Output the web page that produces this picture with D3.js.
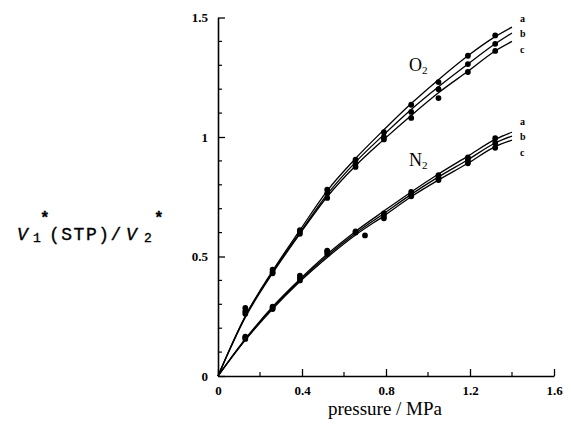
<!DOCTYPE html>
<html><head><meta charset="utf-8">
<script src="https://cdn.jsdelivr.net/npm/d3@7"></script>
<style>html,body{margin:0;padding:0;background:#fff;}svg{display:block;}</style>
</head><body>
<svg id="chart" width="565" height="425"></svg>
<script>
// ---- data ----
const curvePressure = [0, 0.13, 0.26, 0.39, 0.52, 0.655, 0.79, 0.92, 1.05, 1.19, 1.32, 1.4];
const o2CurveA = [0, 0.25, 0.44, 0.61, 0.775, 0.91, 1.03, 1.14, 1.24, 1.34, 1.42, 1.46];
const o2CurveB = [0, 0.25, 0.435, 0.60, 0.76, 0.895, 1.01, 1.115, 1.21, 1.305, 1.39, 1.435];
const o2CurveC = [0, 0.245, 0.43, 0.595, 0.75, 0.88, 0.99, 1.09, 1.185, 1.275, 1.36, 1.40];
const n2CurveA = [0, 0.155, 0.29, 0.405, 0.51, 0.605, 0.69, 0.77, 0.845, 0.92, 0.99, 1.02];
const n2CurveB = [0, 0.153, 0.285, 0.40, 0.503, 0.597, 0.68, 0.76, 0.833, 0.905, 0.975, 1.004];
const n2CurveC = [0, 0.15, 0.28, 0.395, 0.496, 0.59, 0.67, 0.75, 0.82, 0.89, 0.96, 0.987];

const pointPressure = [0.13, 0.26, 0.39, 0.52, 0.655, 0.79, 0.92, 1.05, 1.19, 1.32];
const n2PressureC = [0.13, 0.26, 0.39, 0.52, 0.70, 0.79, 0.92, 1.05, 1.19, 1.32];
const o2PointsA = [0.285, 0.445, 0.61, 0.78, 0.905, 1.02, 1.135, 1.23, 1.34, 1.425];
const o2PointsB = [0.27, 0.435, 0.605, 0.765, 0.89, 1.0, 1.105, 1.2, 1.305, 1.39];
const o2PointsC = [0.26, 0.43, 0.595, 0.745, 0.875, 0.99, 1.08, 1.163, 1.272, 1.36];
const n2PointsA = [0.165, 0.29, 0.42, 0.525, 0.605, 0.68, 0.77, 0.84, 0.915, 0.995];
const n2PointsB = [0.16, 0.285, 0.41, 0.52, 0.60, 0.67, 0.76, 0.83, 0.903, 0.975];
const n2PointsC = [0.155, 0.28, 0.40, 0.51, 0.588, 0.66, 0.752, 0.82, 0.89, 0.955];

const xTickValues = [0, 0.4, 0.8, 1.2, 1.6];
const xTickLabels = ["0", "0.4", "0.8", "1.2", "1.6"];
const yTickValues = [0, 0.5, 1, 1.5];
const yTickLabels = ["0", "0.5", "1", "1.5"];
const seriesLabels = ["a", "b", "c"];

// ---- chart ----
const svg = d3.select("#chart");
const x = d3.scaleLinear().domain([0, 1.6]).range([218, 554]);
const y = d3.scaleLinear().domain([0, 1.5]).range([376, 17.5]);
const serif = "'Liberation Serif', 'Times New Roman', serif";

// axes
const xMinor = d3.range(0, 1.61, 0.2).filter(v => !xTickValues.some(t => Math.abs(t - v) < 1e-6));
const yMinor = d3.range(0, 1.51, 0.1).filter(v => !yTickValues.some(t => Math.abs(t - v) < 1e-6));

const gx = svg.append("g").attr("transform", `translate(0,${y(0)})`);
gx.call(d3.axisBottom(x).tickValues(xTickValues).tickSizeInner(-7).tickSizeOuter(0)
  .tickFormat((d, i) => xTickLabels[i]));
gx.append("g").call(g => g.selectAll("line.mn").data(xMinor).join("line")
  .attr("x1", d => x(d)).attr("x2", d => x(d)).attr("y1", 0).attr("y2", -4)
  .attr("stroke", "#000").attr("stroke-width", 1.2));

const gy = svg.append("g").attr("transform", `translate(${x(0)},0)`);
gy.call(d3.axisLeft(y).tickValues(yTickValues).tickSizeInner(-7).tickSizeOuter(0)
  .tickFormat((d, i) => yTickLabels[i]).tickPadding(10));
gy.append("g").call(g => g.selectAll("line.mn").data(yMinor).join("line")
  .attr("y1", d => y(d)).attr("y2", d => y(d)).attr("x1", 0).attr("x2", 4)
  .attr("stroke", "#000").attr("stroke-width", 1.2));

[gx, gy].forEach(g => {
  g.select(".domain").attr("stroke", "#000").attr("stroke-width", 1.6);
  g.selectAll(".tick line").attr("stroke", "#000").attr("stroke-width", 1.3);
  g.selectAll(".tick text").attr("font-family", serif).attr("font-size", 13)
    .attr("font-weight", "bold").attr("fill", "#000");
});
gx.selectAll(".tick text").attr("dy", "0.71em").attr("y", 10);

// curves
const line = d3.line().x(d => x(d[0])).y(d => y(d[1])).curve(d3.curveMonotoneX);
const curves = [o2CurveA, o2CurveB, o2CurveC, n2CurveA, n2CurveB, n2CurveC];
curves.forEach(c => {
  svg.append("path").datum(curvePressure.map((p, i) => [p, c[i]]))
    .attr("d", line).attr("fill", "none").attr("stroke", "#000").attr("stroke-width", 1.3);
});

// points
const pointSets = [
  [pointPressure, o2PointsA], [pointPressure, o2PointsB], [pointPressure, o2PointsC],
  [pointPressure, n2PointsA], [pointPressure, n2PointsB], [n2PressureC, n2PointsC]
];
pointSets.forEach(([ps, vs]) => {
  svg.append("g").selectAll("circle").data(ps.map((p, i) => [p, vs[i]])).join("circle")
    .attr("cx", d => x(d[0])).attr("cy", d => y(d[1])).attr("r", 2.9).attr("fill", "#000");
});

// series letters
const o2LabelY = [22, 37, 53];
const n2LabelY = [125, 140, 156];
seriesLabels.forEach((s, i) => {
  svg.append("text").attr("x", 520).attr("y", o2LabelY[i]).text(s)
    .attr("font-family", serif).attr("font-size", 10).attr("font-weight", "bold");
  svg.append("text").attr("x", 520).attr("y", n2LabelY[i]).text(s)
    .attr("font-family", serif).attr("font-size", 10).attr("font-weight", "bold");
});

// gas labels
function gasLabel(sym, xx, yy) {
  const t = svg.append("text").attr("x", xx).attr("y", yy)
    .attr("font-family", serif).attr("font-size", 18);
  t.append("tspan").text(sym);
  t.append("tspan").text("2").attr("font-size", 11).attr("dy", 3);
}
gasLabel("O", 409, 71);
gasLabel("N", 409, 166);

// axis titles
svg.append("text").attr("x", 385).attr("y", 415).attr("text-anchor", "middle")
  .attr("font-family", serif).attr("font-size", 19).text("pressure / MPa");

const mono = "'Liberation Mono', 'Courier New', monospace";
const yl = svg.append("g").attr("font-family", mono).attr("fill", "#000")
  .attr("stroke", "#000").attr("stroke-width", 0.35);
yl.append("text").attr("x", 17).attr("y", 240).attr("font-size", 18).attr("font-style", "italic").text("V");
yl.append("text").attr("x", 33).attr("y", 242).attr("font-size", 13).text("1");
yl.append("text").attr("x", 40).attr("y", 223).attr("font-size", 16).attr("font-weight", "bold").text("*");
yl.append("text").attr("x", 49).attr("y", 240).attr("font-size", 18).attr("letter-spacing", 1.5).text("(STP)/");
yl.append("text").attr("x", 126).attr("y", 240).attr("font-size", 18).attr("font-style", "italic").text("V");
yl.append("text").attr("x", 144).attr("y", 242).attr("font-size", 13).text("2");
yl.append("text").attr("x", 154).attr("y", 223).attr("font-size", 16).attr("font-weight", "bold").text("*");
</script>
</body></html>
